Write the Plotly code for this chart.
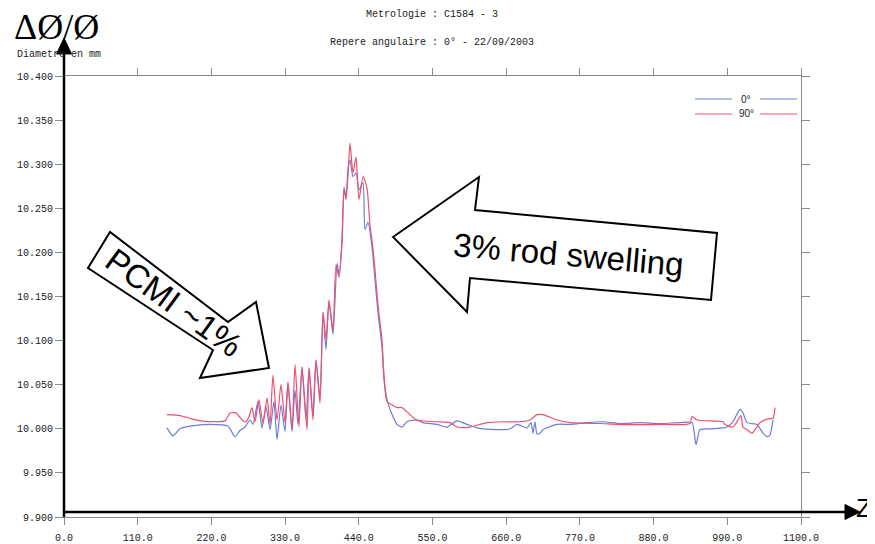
import plotly.graph_objects as go

# ---------------- data ----------------
z_0 = [153.7, 162.7, 173.1, 188.1, 217.9, 244.8, 255.2, 262.7, 270.1, 277.6,
       282.1, 289.5, 295.5, 301.5, 307.5, 313.4, 317.9, 323.9, 329.8, 334.3,
       340.3, 344.8, 349.2, 355.2, 361.2, 365.7, 371.6, 376.1, 382.1, 386.6,
       391.0, 395.5, 401.5, 407.5, 410.4, 414.9, 417.9, 420.9, 423.9, 426.9,
       431.3, 435.8, 440.3, 446.3, 449.2, 453.7, 459.7, 464.2, 468.6, 474.6,
       477.6, 482.1, 486.6, 491.0, 497.0, 504.5, 511.9, 526.9, 535.8, 556.7,
       571.6, 586.6, 601.5, 616.4, 646.3, 665.7, 676.1, 691.0, 697.0, 700.0,
       703.0, 706.0, 710.4, 714.9, 735.8, 755.2, 780.6, 804.5, 829.8, 859.7,
       889.5, 919.4, 937.3, 943.3, 949.2, 964.2, 983.6, 989.5, 998.5, 1008.9,
       1013.4, 1019.4, 1034.3, 1043.3, 1049.2, 1053.7, 1058.2]
d_0 = [10.001, 9.992, 10.000, 10.003, 10.005, 10.003, 9.991, 9.998, 10.002, 10.010,
       10.005, 10.031, 10.001, 10.025, 9.999, 10.031, 9.988, 10.027, 9.997, 10.052,
       9.997, 10.044, 10.005, 10.070, 10.010, 10.069, 10.015, 10.078, 10.036, 10.132,
       10.090, 10.143, 10.107, 10.188, 10.175, 10.214, 10.274, 10.263, 10.294, 10.305,
       10.286, 10.290, 10.271, 10.279, 10.226, 10.234, 10.206, 10.169, 10.132, 10.093,
       10.056, 10.033, 10.022, 10.014, 10.005, 10.002, 10.008, 10.010, 10.007, 10.005,
       10.002, 10.009, 10.005, 10.001, 9.999, 10.000, 10.005, 10.001, 10.007, 9.995,
       10.008, 9.994, 9.995, 9.999, 10.005, 10.005, 10.007, 10.008, 10.006, 10.007,
       10.006, 10.007, 10.007, 9.982, 9.999, 10.000, 10.001, 10.002, 10.008, 10.022,
       10.018, 10.007, 10.005, 9.995, 9.991, 9.993, 10.010]

z_90 = [153.7, 173.1, 188.1, 203.0, 240.3, 247.8, 256.7, 265.7, 271.6, 276.1,
        280.6, 285.1, 291.0, 297.0, 303.0, 307.5, 311.9, 317.9, 323.9, 329.8,
        334.3, 340.3, 344.8, 350.7, 355.2, 362.7, 365.7, 371.6, 376.1, 382.1,
        386.6, 391.0, 395.5, 401.5, 406.0, 410.4, 414.9, 417.9, 420.9, 423.9,
        426.9, 431.3, 435.8, 440.3, 446.3, 452.2, 456.7, 459.7, 464.2, 468.6,
        474.6, 477.6, 482.1, 489.5, 497.0, 504.5, 516.4, 526.9, 556.7, 576.1,
        586.6, 606.0, 631.3, 655.2, 680.6, 695.5, 706.0, 714.9, 735.8, 755.2,
        800.0, 829.8, 889.5, 934.3, 937.3, 944.8, 983.6, 986.5, 998.5, 1010.4,
        1013.4, 1019.4, 1026.8, 1038.8, 1049.2, 1058.2, 1061.2]
d_90 = [10.016, 10.015, 10.012, 10.009, 10.009, 10.018, 10.018, 10.010, 10.008, 10.014,
        10.024, 10.008, 10.033, 10.006, 10.035, 10.005, 10.061, 10.010, 10.050, 10.007,
        10.053, 9.999, 10.073, 10.002, 10.070, 9.999, 10.069, 10.010, 10.078, 10.029,
        10.132, 10.101, 10.146, 10.112, 10.186, 10.172, 10.209, 10.271, 10.260, 10.288,
        10.324, 10.290, 10.308, 10.260, 10.286, 10.273, 10.231, 10.214, 10.180, 10.141,
        10.101, 10.061, 10.031, 10.027, 10.024, 10.024, 10.016, 10.010, 10.008, 10.007,
        10.002, 10.002, 10.007, 10.008, 10.008, 10.010, 10.016, 10.016, 10.010, 10.007,
        10.006, 10.005, 10.005, 10.006, 10.014, 10.010, 10.008, 10.005, 10.002, 10.015,
        10.002, 9.999, 9.995, 10.007, 10.011, 10.012, 10.024]

x_ticks = [0, 110, 220, 330, 440, 550, 660, 770, 880, 990, 1100]
y_ticks = [9.90, 9.95, 10.00, 10.05, 10.10, 10.15, 10.20, 10.25, 10.30, 10.35, 10.40]
series_names = ["0°", "90°"]

BLUE = "#6b7dd6"
RED = "#f0506e"
TXT = "#222222"
MONO = "Liberation Mono, Courier New, monospace"
SANS = "Liberation Sans, Arial, sans-serif"
SERIF = "Liberation Serif, Times New Roman, serif"

# ---------------- layout helpers (screen pixel -> paper) ----------------
W, H = 875, 544
OFF = 8                      # page body margin of the html page
L, R, T, B = 64 - OFF, 801 - OFF, 76 - OFF, 517 - OFF   # plot area, figure pixels


def fx(p):
    return (p - OFF - L) / (R - L)


def fy(p):
    return (B - (p - OFF)) / (B - T)


def path(pts):
    return "M " + " L ".join(f"{fx(a):.5f},{fy(b):.5f}" for a, b in pts) + " Z"


fig = go.Figure()
fig.add_trace(go.Scatter(x=z_0, y=d_0, mode="lines", name=series_names[0],
                         line=dict(color=BLUE, width=1.2, shape="spline", smoothing=0.6)))
fig.add_trace(go.Scatter(x=z_90, y=d_90, mode="lines", name=series_names[1],
                         line=dict(color=RED, width=1.2, shape="spline", smoothing=0.6)))

axis_common = dict(showgrid=False, zeroline=False, showline=True, linecolor="#8a8a8a",
                   linewidth=1, mirror="ticks", ticks="outside", tickcolor="#8a8a8a",
                   automargin=False,
                   tickfont=dict(family=MONO, size=10, color=TXT), fixedrange=True)
fig.update_xaxes(range=[0, 1100], tickvals=x_ticks,
                 ticktext=[f"{v:.1f}" for v in x_ticks], ticklen=7,
                 ticklabelstandoff=4, **axis_common)
fig.update_yaxes(range=[9.9, 10.4], tickvals=y_ticks,
                 ticktext=[f"{v:.3f}" for v in y_ticks], ticklen=8, **axis_common)

shapes = []
annotations = []

# thick black axis arrows
shapes.append(dict(type="line", xref="paper", yref="paper", x0=fx(64), y0=fy(517),
                   x1=fx(64), y1=fy(50), line=dict(color="black", width=2.5)))
shapes.append(dict(type="path", xref="paper", yref="paper",
                   path=path([(64, 38), (56.5, 54), (71.5, 54)]),
                   fillcolor="black", line=dict(color="black", width=1)))
shapes.append(dict(type="line", xref="paper", yref="paper", x0=fx(64), y0=fy(512),
                   x1=fx(846), y1=fy(512), line=dict(color="black", width=2.5)))
shapes.append(dict(type="path", xref="paper", yref="paper",
                   path=path([(860, 512), (845, 504.5), (845, 519.5)]),
                   fillcolor="black", line=dict(color="black", width=1)))

# block arrow "3% rod swelling"
shapes.append(dict(type="path", xref="paper", yref="paper", layer="above",
                   path=path([(393, 237), (479, 177), (475, 210), (717, 233),
                              (711, 300), (470, 278), (467, 312)]),
                   fillcolor="white", line=dict(color="black", width=2)))
# block arrow "PCMI ~1%"
shapes.append(dict(type="path", xref="paper", yref="paper", layer="above",
                   path=path([(269, 368), (256, 302), (228, 322), (110, 232),
                              (88, 268), (213, 350), (200, 378)]),
                   fillcolor="white", line=dict(color="black", width=2)))

# legend-like key
for row_y, col in [(99, BLUE), (114, RED)]:
    for xa, xb in [(695, 732), (760, 797)]:
        shapes.append(dict(type="line", xref="paper", yref="paper", x0=fx(xa), y0=fy(row_y),
                           x1=fx(xb), y1=fy(row_y), line=dict(color=col, width=1.2)))
for row_y, name in [(99, series_names[0]), (114, series_names[1])]:
    annotations.append(dict(x=fx(746), y=fy(row_y), text=name,
                            font=dict(family=SANS, size=10, color=TXT)))

# texts
annotations += [
    dict(x=fx(56), y=fy(27), text="ΔØ/Ø", font=dict(family=SERIF, size=36, color="black")),
    dict(x=fx(59), y=fy(55), text="Diametre en mm", font=dict(family=MONO, size=10, color=TXT)),
    dict(x=fx(432), y=fy(14), text="Metrologie : C1584 - 3",
         font=dict(family=MONO, size=10, color=TXT)),
    dict(x=fx(432), y=fy(43), text="Repere angulaire : 0° - 22/09/2003",
         font=dict(family=MONO, size=10, color=TXT)),
    dict(x=fx(568), y=fy(254), text="3% rod swelling", textangle=5,
         font=dict(family=SANS, size=33, color="black")),
    dict(x=fx(174), y=fy(302), text="PCMI ~1%", textangle=36,
         font=dict(family=SANS, size=33, color="black")),
    dict(x=fx(874), y=fy(508), text="Z", xanchor="right",
         font=dict(family=SANS, size=26, color="black")),
]
for a in annotations:
    a.setdefault("xref", "paper")
    a.setdefault("yref", "paper")
    a.setdefault("showarrow", False)
    a.setdefault("xanchor", "center")
    a.setdefault("yanchor", "middle")

fig.update_layout(width=W, height=H, margin=dict(l=L, r=W - R, t=T, b=H - B, autoexpand=False),
                  paper_bgcolor="white", plot_bgcolor="white", showlegend=False,
                  shapes=shapes, annotations=annotations)

fig.write_html("out.html", config={"displayModeBar": False})
